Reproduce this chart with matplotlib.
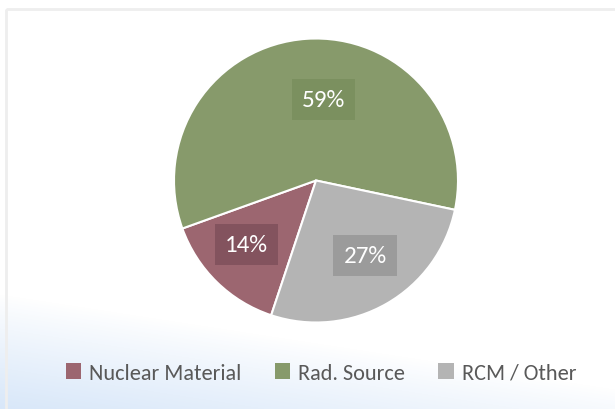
import numpy as np
import matplotlib
matplotlib.use("Agg")
import matplotlib.pyplot as plt
from matplotlib.patches import Patch, Rectangle
import matplotlib.font_manager as fm

categories = ["Nuclear Material", "Rad. Source", "RCM / Other"]
values = [14.4, 58.8, 26.8]
colors = ["#9c6670", "#879a6b", "#b4b4b4"]
box_colors = ["#83535e", "#7b905f", "#9b9b9b"]

avail = {f.name for f in fm.fontManager.ttflist}
fam = None
for c in ["Carlito", "Liberation Sans Narrow", "Lato", "DejaVu Sans"]:
    if c in avail:
        fam = c
        break
plt.rcParams['font.family'] = [fam, 'DejaVu Sans']

W, H = 615, 410
fig = plt.figure(figsize=(W / 100, H / 100), dpi=100)

# background with gradient
bg = fig.add_axes([0, 0, 1, 1])
bg.set_xlim(0, W)
bg.set_ylim(H, 0)
bg.axis('off')
yy, xx = np.mgrid[0:H, 0:W]
d = (yy - (295 + 95 * xx / W)) / 115.0
a = np.clip(d, 0, 1) ** 0.9
c0 = np.array([1.0, 1.0, 1.0])
c1 = np.array([0xd8, 0xe7, 0xf9]) / 255.0
img = c0[None, None, :] * (1 - a[..., None]) + c1[None, None, :] * a[..., None]
bg.imshow(img, extent=[0, W, H, 0], aspect='auto', zorder=0)
bg.add_patch(Rectangle((6, 10), W, H, fill=False, edgecolor='#eeeeee', lw=2, zorder=1))

# pie
cx, cy, r = 316, 181.5, 142
ax = fig.add_axes([(cx - r) / W, (H - cy - r) / H, 2 * r / W, 2 * r / H])
wedges, texts, autotexts = ax.pie(values, colors=colors, startangle=-108.4, counterclock=False,
                                  autopct='%.0f%%', pctdistance=0.62, radius=1,
                                  wedgeprops=dict(edgecolor='white', linewidth=1.5))
label_r = [0.67, 0.57, 0.63]
label_dang = [-3.0, -9.0, 3.4]
for w, t, bc, lr, da in zip(wedges, autotexts, box_colors, label_r, label_dang):
    ang = np.deg2rad((w.theta1 + w.theta2) / 2 + da)
    t.set_position((lr * np.cos(ang), lr * np.sin(ang)))
    t.set_color('white')
    t.set_fontsize(18)
    t.set_bbox(dict(boxstyle='square,pad=0.4', facecolor=bc, edgecolor='none'))
ax.set_xlim(-1, 1)
ax.set_ylim(-1, 1)
ax.axis('off')

handles = [Patch(facecolor=c, edgecolor='none') for c in colors]
leg = fig.legend(handles, categories, loc='center', bbox_to_anchor=(321 / W, (H - 374) / H),
                 ncol=3, frameon=False, fontsize=16, handlelength=0.7, handleheight=0.7,
                 handletextpad=0.35, columnspacing=1.5, labelcolor='#595959')

fig.savefig('out.png', dpi=100)
